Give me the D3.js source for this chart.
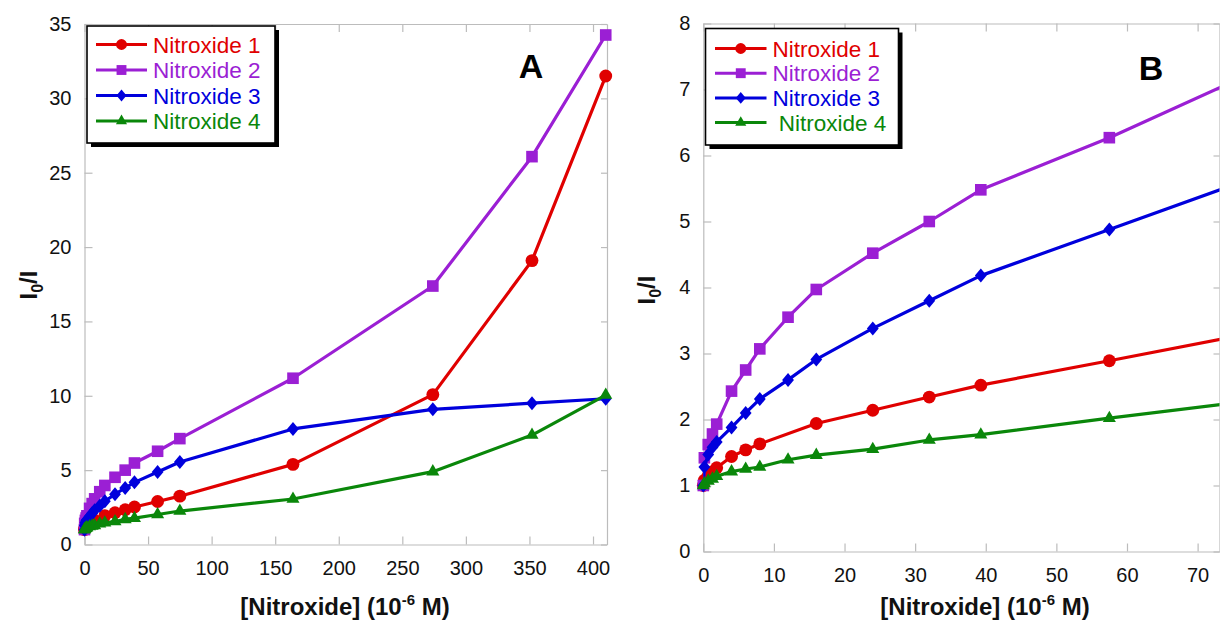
<!DOCTYPE html>
<html>
<head>
<meta charset="utf-8">
<script src="https://cdn.jsdelivr.net/npm/d3@7/dist/d3.min.js"></script>
<style>
  html, body { margin: 0; padding: 0; background: #ffffff; }
  svg { display: block; font-family: "Liberation Sans", Arial, sans-serif; }
</style>
</head>
<body>
<svg id="chart" width="1220" height="621"></svg>
<script>
// ---------------- data ----------------
const concentrations = [0, 0.15, 0.7, 1.3, 1.9, 4, 6, 8, 12, 16, 24, 32, 39.3, 57.5, 75, 164, 274, 352, 410];
const nitroxide1 = [1.0, 1.08, 1.15, 1.21, 1.27, 1.44, 1.54, 1.63, null, 1.94, 2.14, 2.34, 2.52, 2.89, 3.25, 5.39, 10.08, 19.09, 31.5];
const nitroxide2 = [1.0, 1.42, 1.62, 1.78, 1.93, 2.43, 2.75, 3.07, 3.55, 3.97, 4.52, 5.0, 5.48, 6.27, 7.12, 11.18, 17.38, 26.08, 34.26];
const nitroxide3 = [1.0, 1.28, 1.47, 1.58, 1.66, 1.88, 2.1, 2.31, 2.6, 2.91, 3.38, 3.8, 4.18, 4.88, 5.55, 7.77, 9.09, 9.5, 9.8];
const nitroxide4 = [1.0, 1.03, 1.07, 1.1, 1.14, 1.21, 1.25, 1.28, 1.39, 1.46, 1.55, 1.69, 1.77, 2.02, 2.25, 3.06, 4.9, 7.36, 10.05];
const seriesNames = ["Nitroxide 1", "Nitroxide 2", "Nitroxide 3", "Nitroxide 4"];
const legendLabelsB = ["Nitroxide 1", "Nitroxide 2", "Nitroxide 3", "\u00a0Nitroxide 4"];
const xTicksA = [0, 50, 100, 150, 200, 250, 300, 350, 400];
const yTicksA = [0, 5, 10, 15, 20, 25, 30, 35];
const xTicksB = [0, 10, 20, 30, 40, 50, 60, 70];
const yTicksB = [0, 1, 2, 3, 4, 5, 6, 7, 8];
const panelLabels = ["A", "B"];

// ---------------- styles ----------------
const colors = ["#e00000", "#9b1fd4", "#0000dc", "#0a870a"];
const shapes = ["circle", "square", "diamond", "triangle"];
const allSeries = [nitroxide1, nitroxide2, nitroxide3, nitroxide4].map((vals, i) => ({
  name: seriesNames[i], color: colors[i], shape: shapes[i],
  points: concentrations.map((x, j) => ({ x: x, y: vals[j] })).filter(p => p.y !== null)
}));

const svg = d3.select("#chart");
const FRAME = "#bcbcbc";

function markerPath(shape, s) {
  if (shape === "circle") return d3.symbol(d3.symbolCircle, 130 * s * s)();
  if (shape === "square") return d3.symbol(d3.symbolSquare, 135 * s * s)();
  if (shape === "triangle") return d3.symbol(d3.symbolTriangle, 74 * s * s)();
  const w = 5.9 * s, h = 7 * s;
  return `M0,${-h}L${w},0L0,${h}L${-w},0Z`;
}

function drawPanel(cfg) {
  const g = svg.append("g");
  const x = d3.scaleLinear().domain(cfg.xDomain).range([cfg.left, cfg.right]);
  const y = d3.scaleLinear().domain(cfg.yDomain).range([cfg.bottom, cfg.top]);

  const axB = g.append("g").attr("transform", `translate(0,${cfg.bottom})`)
    .call(d3.axisBottom(x).tickValues(cfg.xTicks).tickSize(-8).tickSizeOuter(0).tickPadding(cfg.xPad));
  const axL = g.append("g").attr("transform", `translate(${cfg.left},0)`)
    .call(d3.axisLeft(y).tickValues(cfg.yTicks).tickSize(-8).tickSizeOuter(0).tickPadding(13));
  const axT = g.append("g").attr("transform", `translate(0,${cfg.top})`)
    .call(d3.axisTop(x).tickValues(cfg.xTicks).tickSize(-8).tickSizeOuter(0).tickFormat(""));
  const axR = g.append("g").attr("transform", `translate(${cfg.right},0)`)
    .call(d3.axisRight(y).tickValues(cfg.yTicks).tickSize(-6).tickSizeOuter(0).tickFormat(""));
  [axB, axL, axT, axR].forEach(a => {
    a.select(".domain").attr("stroke", FRAME).attr("stroke-width", 1.2);
    a.selectAll(".tick line").attr("stroke", FRAME).attr("stroke-width", 1.2);
    a.selectAll("text").attr("font-family", "Liberation Sans, Arial, sans-serif")
      .attr("font-size", 20).attr("fill", "#111");
  });

  const clipId = "clip" + cfg.id;
  svg.append("clipPath").attr("id", clipId).append("rect")
    .attr("x", cfg.left).attr("y", cfg.top - 20)
    .attr("width", cfg.right - cfg.left).attr("height", cfg.bottom - cfg.top + 40);

  const line = d3.line().x(d => x(d.x)).y(d => y(d.y));
  allSeries.forEach(s => {
    g.append("path").datum(s.points)
      .attr("clip-path", `url(#${clipId})`)
      .attr("d", line).attr("fill", "none")
      .attr("stroke", s.color).attr("stroke-width", 3.2).attr("stroke-linejoin", "round");
    g.append("g").selectAll("path")
      .data(s.points.filter(p => p.x <= cfg.xDomain[1]))
      .join("path")
      .attr("transform", p => `translate(${x(p.x)},${y(p.y)})`)
      .attr("d", markerPath(s.shape, 1))
      .attr("fill", s.color);
  });

  const L = cfg.legend;
  g.append("rect").attr("x", L.x + 4).attr("y", L.y + 4).attr("width", L.w).attr("height", L.h).attr("fill", "#000");
  g.append("rect").attr("x", L.x).attr("y", L.y).attr("width", L.w).attr("height", L.h)
    .attr("fill", "#fff").attr("stroke", "#000").attr("stroke-width", 1.6);
  allSeries.forEach((s, i) => {
    const ry = L.y + L.row0 + i * L.rowStep;
    g.append("line").attr("x1", L.x + L.lx1).attr("x2", L.x + L.lx2).attr("y1", ry).attr("y2", ry)
      .attr("stroke", s.color).attr("stroke-width", 3);
    g.append("path").attr("transform", `translate(${L.x + (L.lx1 + L.lx2) / 2},${ry})`)
      .attr("d", markerPath(s.shape, 0.85)).attr("fill", s.color);
    g.append("text").attr("x", L.x + L.tx).attr("y", ry + 8)
      .attr("font-size", 22.5).attr("fill", s.color).text(cfg.legendLabels[i]);
  });

  g.append("text").attr("x", cfg.letter[0]).attr("y", cfg.letter[1])
    .attr("text-anchor", "middle").attr("font-weight", "bold").attr("font-size", 34)
    .attr("fill", "#000").text(cfg.label);

  const xt = g.append("text").attr("x", cfg.xTitle[0]).attr("y", cfg.xTitle[1])
    .attr("text-anchor", "middle").attr("font-weight", "bold").attr("font-size", 24).attr("fill", "#111");
  xt.append("tspan").text("[Nitroxide] (10");
  xt.append("tspan").attr("font-size", 15).attr("dy", -10).text("-6");
  xt.append("tspan").attr("dy", 10).text(" M)");

  const yt = g.append("text")
    .attr("transform", `translate(${cfg.yTitle[0]},${cfg.yTitle[1]}) rotate(-90)`)
    .attr("text-anchor", "middle").attr("font-weight", "bold").attr("font-size", 24).attr("fill", "#111");
  yt.append("tspan").text("I");
  yt.append("tspan").attr("font-size", 16).attr("dy", 6).text("0");
  yt.append("tspan").attr("dy", -6).text("/I");
}

drawPanel({
  id: "A", label: panelLabels[0],
  xDomain: [0, 411], yDomain: [0, 35], xTicks: xTicksA, yTicks: yTicksA,
  left: 84.5, right: 607, top: 24, bottom: 544.5, xPad: 16,
  legend: { x: 87, y: 26, w: 188, h: 117, row0: 18.5, rowStep: 25.5, lx1: 9, lx2: 60, tx: 66 },
  legendLabels: seriesNames,
  letter: [531, 78], xTitle: [345, 615], yTitle: [37, 285]
});

drawPanel({
  id: "B", label: panelLabels[1],
  xDomain: [0, 73.1], yDomain: [0, 8], xTicks: xTicksB, yTicks: yTicksB,
  left: 703.3, right: 1219.5, top: 23.5, bottom: 551.5, xPad: 16,
  legend: { x: 705.5, y: 28.5, w: 193, h: 116.5, row0: 20, rowStep: 24.7, lx1: 9.5, lx2: 61, tx: 67 },
  legendLabels: legendLabelsB,
  letter: [1151, 80], xTitle: [985, 615], yTitle: [655, 290]
});
</script>
</body>
</html>
